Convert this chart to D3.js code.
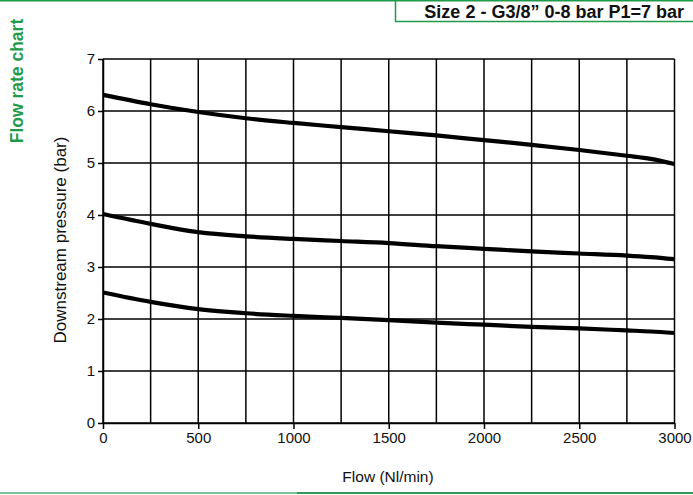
<!DOCTYPE html>
<html>
<head>
<meta charset="utf-8">
<script src="https://cdn.jsdelivr.net/npm/d3@7"></script>
<style>
  html, body { margin: 0; padding: 0; background: #fff; }
  svg { display: block; }
  text { font-family: "Liberation Sans", Arial, Helvetica, sans-serif; }
</style>
</head>
<body>
<svg id="chart" width="693" height="495"></svg>
<script>
const flow = [0, 250, 500, 750, 1000, 1250, 1500, 1750, 2000, 2250, 2500, 2750, 2875, 3000];
const curveHigh = [6.31, 6.13, 5.98, 5.86, 5.77, 5.69, 5.61, 5.53, 5.44, 5.35, 5.25, 5.14, 5.08, 4.98];
const curveMid  = [4.02, 3.83, 3.67, 3.59, 3.54, 3.50, 3.46, 3.40, 3.35, 3.30, 3.26, 3.22, 3.19, 3.15];
const curveLow  = [2.51, 2.33, 2.19, 2.11, 2.06, 2.02, 1.98, 1.93, 1.89, 1.85, 1.82, 1.78, 1.76, 1.73];
const xTicks = [0, 500, 1000, 1500, 2000, 2500, 3000];
const xGrid = [0, 250, 500, 750, 1000, 1250, 1500, 1750, 2000, 2250, 2500, 2750, 3000];
const yTicks = [0, 1, 2, 3, 4, 5, 6, 7];
const title = "Size 2 - G3/8\u201D 0-8 bar P1=7 bar";
const sideTitle = "Flow rate chart";
const xLabel = "Flow (Nl/min)";
const yLabel = "Downstream pressure (bar)";

(function () {
const green = "#1f9a4a";
const svg = d3.select("#chart");
const pLeft = 103, pRight = 674.5, pTop = 59, pBottom = 423;
const x = d3.scaleLinear().domain([0, 3000]).range([pLeft, pRight]);
const y = d3.scaleLinear().domain([0, 7]).range([pBottom, pTop]);

// decorations
svg.append("line").attr("x1", 0).attr("x2", 693).attr("y1", 0.75).attr("y2", 0.75)
  .attr("stroke", green).attr("stroke-width", 1.5);
svg.append("line").attr("x1", 395.5).attr("x2", 395.5).attr("y1", 0).attr("y2", 22)
  .attr("stroke", green).attr("stroke-width", 1.5);
svg.append("line").attr("x1", 395).attr("x2", 693).attr("y1", 21.5).attr("y2", 21.5)
  .attr("stroke", green).attr("stroke-width", 1.5);
svg.append("text").attr("x", 684).attr("y", 18).attr("text-anchor", "end")
  .attr("font-size", 18).attr("font-weight", "bold").attr("fill", "#111").text(title);
svg.append("text").attr("transform", "translate(23,81) rotate(-90)")
  .attr("text-anchor", "middle").attr("font-size", 17.5).attr("font-weight", "bold")
  .attr("fill", green).text(sideTitle);
svg.append("line").attr("x1", 0).attr("x2", 297).attr("y1", 493).attr("y2", 493)
  .attr("stroke", "#7cc29a").attr("stroke-width", 2);
svg.append("line").attr("x1", 297).attr("x2", 693).attr("y1", 493).attr("y2", 493)
  .attr("stroke", "#2f9a5c").attr("stroke-width", 2);

// grid
const g = svg.append("g");
g.selectAll(".vg").data(xGrid).join("line")
  .attr("x1", d => x(d)).attr("x2", d => x(d)).attr("y1", y(7)).attr("y2", y(0))
  .attr("stroke", "#000").attr("stroke-width", 1.5);
g.selectAll(".hg").data(yTicks).join("line")
  .attr("x1", x(0)).attr("x2", x(3000)).attr("y1", d => y(d)).attr("y2", d => y(d))
  .attr("stroke", "#000").attr("stroke-width", 1.5);

// axes
const xAxis = svg.append("g").attr("transform", `translate(0,${pBottom})`)
  .call(d3.axisBottom(x).tickValues(xTicks).tickFormat(d3.format("d"))
    .tickSize(6).tickPadding(3).tickSizeOuter(0));
const yAxis = svg.append("g").attr("transform", `translate(${pLeft},0)`)
  .call(d3.axisLeft(y).tickValues(yTicks).tickFormat(d3.format("d"))
    .tickSize(5).tickPadding(3).tickSizeOuter(0));
[xAxis, yAxis].forEach(a => {
  a.attr("font-size", 15).attr("font-family", "'Liberation Sans', Arial, sans-serif");
  a.select(".domain").attr("stroke", "#000").attr("stroke-width", 1.5);
  a.selectAll(".tick line").attr("stroke", "#000").attr("stroke-width", 1.5);
  a.selectAll(".tick text").attr("fill", "#111");
});

svg.append("text").attr("x", 388).attr("y", 482).attr("text-anchor", "middle")
  .attr("font-size", 15.5).attr("fill", "#111").text(xLabel);
svg.append("text").attr("transform", "translate(66,240) rotate(-90)")
  .attr("text-anchor", "middle").attr("font-size", 17).attr("fill", "#111").text(yLabel);

// curves
const line = d3.line().x((d, i) => x(flow[i])).y(d => y(d)).curve(d3.curveMonotoneX);
[curveHigh, curveMid, curveLow].forEach(s => {
  svg.append("path").datum(s).attr("d", line).attr("fill", "none")
    .attr("stroke", "#000").attr("stroke-width", 4.2).attr("stroke-linecap", "butt");
});
})();
</script>
</body>
</html>
